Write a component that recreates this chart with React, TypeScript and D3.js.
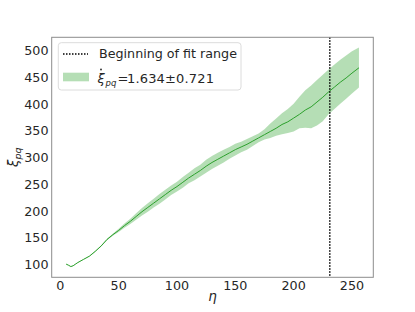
import React from "react";
import * as d3 from "d3";

const eta = [5,7,9,11,13,15,20,25,30,35,40,45,50,55,60,65,70,75,80,85,90,95,100,105,110,115,120,125,130,135,140,145,150,155,160,165,170,175,180,185,190,195,200,205,210,215,220,225,230,235,240,245,250,256];
const xiMean = [101,99,96.5,98,101,104,110,116,125,135,147,156,164,173,181,190,199,207,215,223,231,239,246,254,262,269,276,284,291,297,303,309,315,320,325,331,337,343,349,355,362,367,374,381,389,395,404,413,423,432,441,449,458,468];
const xiUpper = [101.5,99.5,97,98.5,101.5,104.5,110.5,116.5,126,136,148.5,158,167,177,186,196,206,215,223,232,240,248,255,264,272,280,287,296,303,309,315,320,326,330,335,340,345,353,364,373,383,391,401,414,426,435,445,455,465,474,483,491,499,506];
const xiLower = [100.5,98.5,96,97.5,100.5,103.5,109.5,115.5,124,134,145.5,154,161,169,176,184,192,199,207,214,222,230,237,244,252,258,265,272,279,285,291,298,304,310,315,322,329,334,337,341,344,346,349,355,356,355,360,368,381,391,401,410,420,431];
const xTicks = [0, 50, 100, 150, 200, 250];
const yTicks = [100, 150, 200, 250, 300, 350, 400, 450, 500];
const fitStart = 231;
const legendLabel1 = "Beginning of fit range";
const legendValue = "1.634±0.721";

const W = 415, H = 312;
const L = 51.7, R = 373.3, T = 37.3, B = 277.3;
const FONT = "DejaVu Sans, sans-serif";
const TXT = "#262626";
const GREEN = "#2ca02c";

export default function App() {
  const x = d3.scaleLinear().domain([-7.4, 268.3]).range([L, R]);
  const y = d3.scaleLinear().domain([76.4, 525]).range([B, T]);
  const pts = eta.map((e, i) => ({ e, m: xiMean[i], u: xiUpper[i], l: xiLower[i] }));
  const area = d3.area<any>().x(d => x(d.e)).y0(d => y(d.l)).y1(d => y(d.u));
  const line = d3.line<any>().x(d => x(d.e)).y(d => y(d.m));
  return (
    <svg width={W} height={H} style={{ position: "absolute", left: 0, top: 0, background: "#fff" }} fontFamily={FONT}>
      <rect x={0} y={0} width={W} height={H} fill="#fff" />
      <path d={area(pts) || ""} fill={GREEN} fillOpacity={0.35} stroke="none" />
      <path d={line(pts) || ""} fill="none" stroke={GREEN} strokeWidth={1} />
      <line x1={x(fitStart)} x2={x(fitStart)} y1={T} y2={B} stroke="#000" strokeWidth={1.5} strokeDasharray="1.5,1.5" />
      <rect x={L} y={T} width={R - L} height={B - T} fill="none" stroke="#8c8c8c" strokeWidth={1} />
      {xTicks.map(t => (
        <text key={"x" + t} x={x(t)} y={289.5} textAnchor="middle" fontSize={12.7} fill={TXT}>{t}</text>
      ))}
      {yTicks.map(t => (
        <text key={"y" + t} x={48.5} y={y(t)} dy="0.36em" textAnchor="end" fontSize={12.7} fill={TXT}>{t}</text>
      ))}
      <text x={(L + R) / 2} y={301} textAnchor="middle" fontSize={13.5} fontStyle="italic" fill={TXT}>η</text>
      <g transform={`translate(18,${(T + B) / 2}) rotate(-90)`}>
        <text x={0} y={0} textAnchor="middle" fontSize={13.5} fill={TXT}>
          <tspan fontStyle="italic">ξ</tspan>
          <tspan fontStyle="italic" fontSize={9.5} dy={3}>pq</tspan>
        </text>
      </g>
      <g>
        <rect x={58.3} y={42.7} width={182.7} height={47.3} rx={3} fill="#fff" fillOpacity={0.8} stroke="#dcdcdc" strokeWidth={1} />
        <line x1={63} x2={88} y1={54} y2={54} stroke="#000" strokeWidth={1.5} strokeDasharray="1.5,1.5" />
        <text x={99} y={58} fontSize={12.7} fill={TXT}>{legendLabel1}</text>
        <rect x={63} y={72.7} width={26} height={8.6} fill={GREEN} fillOpacity={0.35} />
        <text x={97.5} y={82.5} fontSize={13} fill={TXT} fontStyle="italic">ξ</text>
        <text x={105.5} y={85.5} fontSize={8.5} fill={TXT} fontStyle="italic">pq</text>
        <circle cx={101} cy={69.5} r={0.9} fill={TXT} />
        <text x={117.5} y={82.5} fontSize={13} fill={TXT}>=</text>
        <text x={127} y={82.5} fontSize={13} fill={TXT} textLength={87}>{legendValue}</text>
      </g>
    </svg>
  );
}
